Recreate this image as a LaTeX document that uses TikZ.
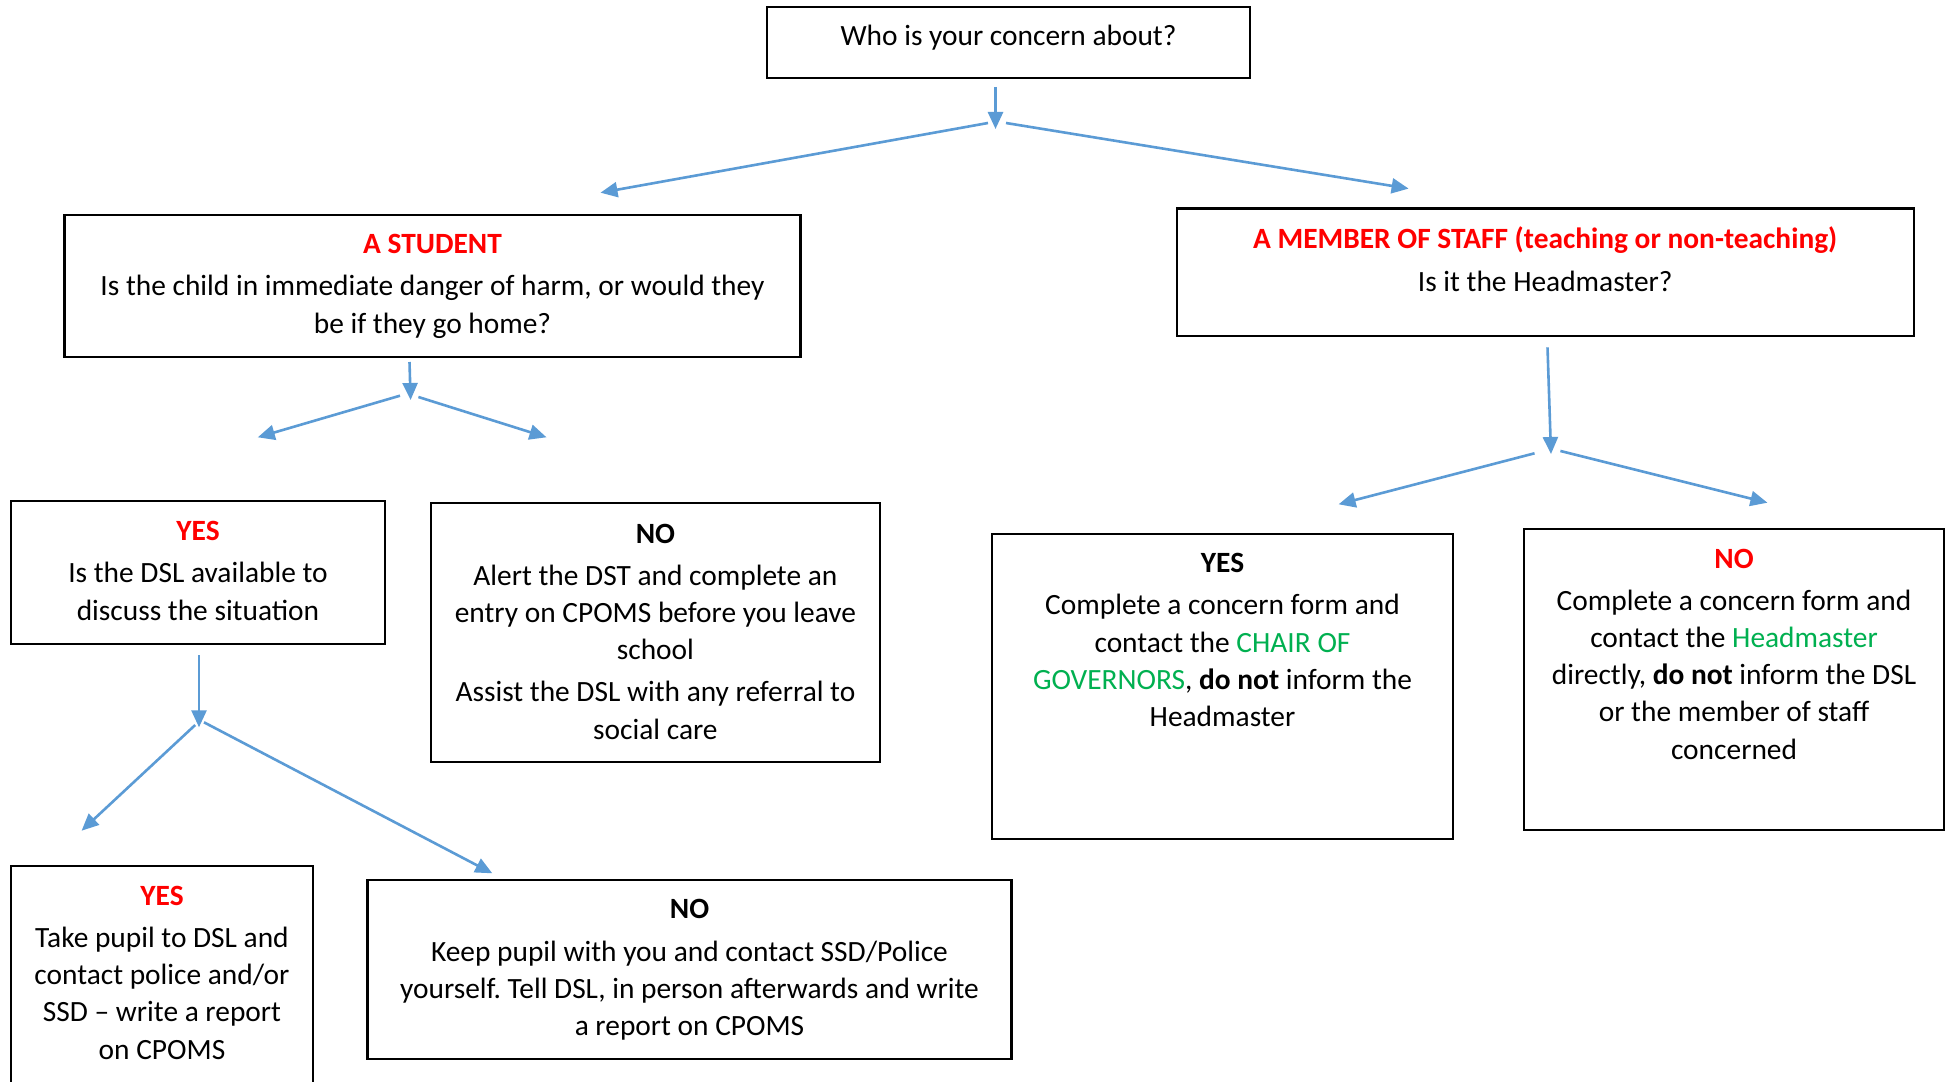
\documentclass[tikz,border=0pt]{standalone}
\usepackage{fontspec}
\setmainfont{Carlito}
\usetikzlibrary{arrows.meta}
\definecolor{arrblue}{HTML}{5B9BD5}
\definecolor{wred}{HTML}{FF0000}
\definecolor{wgreen}{HTML}{00B050}
\frenchspacing
\begin{document}
\begin{tikzpicture}[x=0.5pt,y=-0.5pt,
  box/.style={draw=black, line width=1.1pt, rectangle, inner sep=0pt},
  txt/.style={align=center, inner sep=0pt, anchor=base, font=\fontsize{14.7}{18.6}\selectfont},
  arr/.style={draw=arrblue, line width=1.3pt, -{Triangle[length=8.5pt,width=7.5pt]}},
  ttl/.style={font=\bfseries}
]
\clip (0,0) rectangle (1946,1081);
\fill[white] (0,0) rectangle (1946,1081);

% boxes
\node[box, minimum width=241.5pt, minimum height=35.3pt] (topB) at (1008.5,42.7) {};
\node[box, minimum width=368pt, minimum height=71.35pt] (stuB) at (432.5,286) {};
\node[box, minimum width=368.6pt, minimum height=63.9pt] (stfB) at (1545.2,272.4) {};
\node[box, minimum width=187pt, minimum height=71.5pt] (dslB) at (198,572.5) {};
\node[box, minimum width=224.65pt, minimum height=129.7pt] (snoB) at (655.4,632.3) {};
\node[box, minimum width=230.85pt, minimum height=152.65pt] (hyB) at (1222.5,686.4) {};
\node[box, minimum width=210pt, minimum height=150.8pt] (hnB) at (1734,679.5) {};
\node[box, minimum width=150.9pt, minimum height=117pt] (dyB) at (162,983) {};
\node[box, minimum width=322pt, minimum height=89.3pt] (dnB) at (689.5,969.3) {};

% texts (anchor = baseline of last line)
\node[txt] (topT) at (1008.5,46) {Who is your concern about?};
\node[txt] (stuT) at (432.5,333) {\textbf{\color{wred}A STUDENT}\\[2.5pt]
  Is the child in immediate danger of harm, or would they\\ be if they go home?};
\node[txt] (stfT) at (1545.2,291) {\textbf{\color{wred}A MEMBER OF STAFF (teaching or non-teaching)}\\[2.5pt]
  Is it the Headmaster?};
\node[txt] (dslT) at (198,620) {\textbf{\color{wred}YES}\\[2.5pt]
  Is the DSL available to\\ discuss the situation};
\node[txt] (snoT) at (655.4,739) {\textbf{NO}\\[2.5pt]
  Alert the DST and complete an\\ entry on CPOMS before you leave\\ school\\[2.5pt]
  Assist the DSL with any referral to\\ social care};
\node[txt] (hyT) at (1222.5,726.5) {\textbf{YES}\\[2.5pt]
  Complete a concern form and\\ contact the \textcolor{wgreen}{CHAIR OF}\\
  \textcolor{wgreen}{GOVERNORS}, \textbf{do not} inform the\\ Headmaster};
\node[txt] (hnT) at (1734,759) {\textbf{\color{wred}NO}\\[2.5pt]
  Complete a concern form and\\ contact the \textcolor{wgreen}{Headmaster}\\
  directly, \textbf{do not} inform the DSL\\ or the member of staff\\ concerned};
\node[txt] (dyT) at (162,1059) {\textbf{\color{wred}YES}\\[2.5pt]
  Take pupil to DSL and\\ contact police and/or\\ SSD -- write a report\\ on CPOMS};
\node[txt] (dnT) at (689.5,1035.5) {\textbf{NO}\\[2.5pt]
  Keep pupil with you and contact SSD/Police\\ yourself. Tell DSL, in person afterwards and write\\ a report on CPOMS};

% arrow coordinates
\coordinate (t0) at (995.5,87);
\coordinate (t1) at (995.5,129);
\coordinate (tl0) at (988,123);
\coordinate (tl1) at (600.5,192.7);
\coordinate (tr0) at (1006,123);
\coordinate (tr1) at (1408.6,188.6);

\coordinate (s0) at (409.5,362);
\coordinate (s1) at (410.6,400);
\coordinate (sl0) at (400,395.7);
\coordinate (sl1) at (257.8,437.3);
\coordinate (sr0) at (418.4,397);
\coordinate (sr1) at (546.5,437.3);

\coordinate (h0) at (1547.5,347.3);
\coordinate (h1) at (1551,454);
\coordinate (hl0) at (1534.5,453.3);
\coordinate (hl1) at (1338.6,504.3);
\coordinate (hr0) at (1560.4,451);
\coordinate (hr1) at (1767.4,502.7);

\coordinate (d0) at (199,655);
\coordinate (d1) at (199,727.3);
\coordinate (dl0) at (195.2,725);
\coordinate (dl1) at (81.6,830.7);
\coordinate (dr0) at (204,722.3);
\coordinate (dr1) at (492.3,873.3);

\foreach \a/\b in {t0/t1,tl0/tl1,tr0/tr1,s0/s1,sl0/sl1,sr0/sr1,h0/h1,hl0/hl1,hr0/hr1,d0/d1,dl0/dl1,dr0/dr1}
  \draw[arr] (\a) -- (\b);
\end{tikzpicture}
\end{document}
